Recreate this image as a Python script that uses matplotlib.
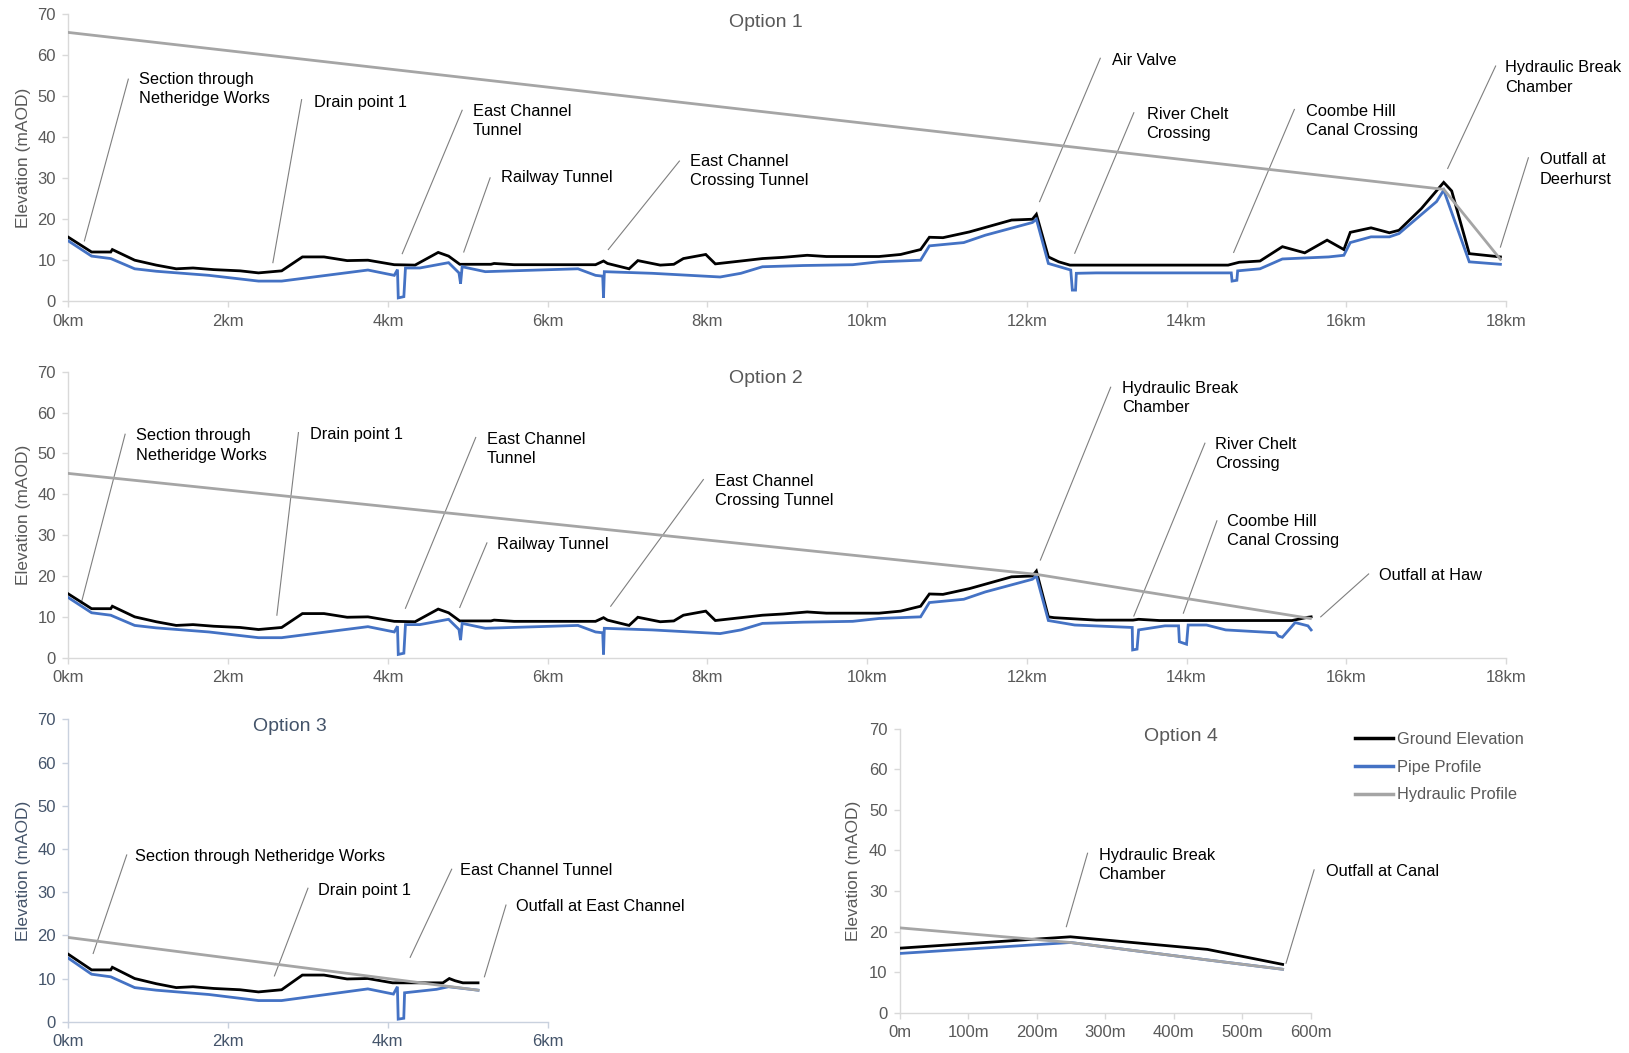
import matplotlib
matplotlib.use("Agg")
from matplotlib import pyplot as plt
from matplotlib.lines import Line2D

plt.rcParams['font.family'] = ['Liberation Sans', 'DejaVu Sans']

# colours (Excel style)
GROUND_C = '#000000'
PIPE_C = '#4472C4'
HYD_C = '#A5A5A5'
GREY_TXT = '#595959'
BLUE_TXT = '#44546A'

# ---- data (km / mAOD) ----
# ground profile shared by options 1-3 from Netheridge to ~12 km
west_km = [0, 0.29, 0.53, 0.55, 0.83, 1.1, 1.35, 1.56, 1.82, 2.15, 2.38, 2.67,
           2.93, 3.2, 3.49, 3.75, 4.08, 4.34, 4.63, 4.76, 4.9, 5.29, 5.33, 5.58,
           6.6, 6.7, 6.75, 7.02, 7.13, 7.41, 7.58, 7.7, 7.98, 8.1, 8.42, 8.69,
           8.95, 9.25, 9.49, 10.15, 10.42, 10.67, 10.78, 10.95, 11.28, 11.81,
           12.07, 12.12]
west_ground = [15.6, 12.0, 12.0, 12.6, 10.0, 8.8, 7.9, 8.1, 7.7, 7.4, 6.9, 7.4,
               10.8, 10.8, 9.9, 10.0, 8.9, 8.8, 11.9, 11.0, 9.0, 9.0, 9.2, 8.9,
               8.9, 9.8, 9.2, 7.9, 9.9, 8.8, 9.0, 10.4, 11.4, 9.1, 9.8, 10.4,
               10.7, 11.2, 10.9, 10.9, 11.4, 12.6, 15.6, 15.5, 16.9, 19.8,
               20.0, 21.2]
west_pipe_km = [0, 0.29, 0.53, 0.83, 1.1, 1.76, 2.38, 2.67, 3.07, 3.75, 4.08,
                4.12, 4.13, 4.2, 4.22, 4.4, 4.76, 4.89, 4.91, 4.93, 5.22, 6.38,
                6.6, 6.69, 6.70, 6.71, 7.31, 8.16, 8.42, 8.69, 9.2, 9.82, 10.15,
                10.67, 10.78, 11.21, 11.48, 12.07, 12.12]
west_pipe = [14.7, 11.0, 10.4, 7.9, 7.3, 6.3, 4.9, 4.9, 5.9, 7.6, 6.3,
             7.7, 0.8, 1.1, 8.1, 8.1, 9.4, 6.9, 4.3, 8.4, 7.2, 7.9,
             6.3, 6.1, 0.8, 7.2, 6.8, 5.9, 6.8, 8.4, 8.7, 8.9, 9.6,
             10.0, 13.5, 14.3, 16.1, 19.2, 20.0]

# Option 1 - to Deerhurst
opt1_km = west_km + [12.27, 12.4, 12.54, 14.52, 14.66, 14.92, 15.2, 15.48, 15.76,
                     15.97, 16.05, 16.31, 16.54, 16.66, 16.94, 17.22, 17.32,
                     17.54, 17.93]
opt1_ground = west_ground + [10.8, 9.6, 8.8, 8.8, 9.5, 9.8, 13.3, 11.8, 14.9,
                             12.6, 16.8, 17.9, 16.7, 17.3, 22.6, 29.0, 26.9,
                             11.6, 10.8]
opt1_pipe_km = west_pipe_km + [12.27, 12.55, 12.57, 12.61, 12.62, 12.87, 14.56,
                               14.57, 14.63, 14.64, 14.92, 15.2, 15.78, 15.97,
                               16.05, 16.31, 16.54, 16.66, 17.13, 17.22, 17.54,
                               17.93]
opt1_pipe = west_pipe + [9.2, 7.6, 2.7, 2.7, 6.8, 6.9, 6.9,
                         4.9, 5.1, 7.4, 7.9, 10.3, 10.8, 11.2,
                         14.3, 15.7, 15.7, 16.5, 24.3, 27.1, 9.6,
                         9.0]
opt1_hyd_km = [0, 17.22, 17.93]
opt1_hyd = [65.6, 27.3, 10.2]

# Option 2 - to Haw
opt2_km = west_km + [12.27, 12.34, 12.87, 13.33, 13.4, 13.66, 15.32, 15.52, 15.56]
opt2_ground = west_ground + [10.0, 9.8, 9.2, 9.2, 9.4, 9.1, 9.1, 9.9, 10.0]
opt2_pipe_km = west_pipe_km + [12.27, 12.6, 13.32, 13.325, 13.38, 13.4, 13.73,
                               13.9, 13.91, 14.0, 14.02, 14.25, 14.49, 15.12,
                               15.15, 15.2, 15.36, 15.52, 15.56]
opt2_pipe = west_pipe + [9.1, 8.0, 7.4, 1.9, 2.1, 6.8, 7.8,
                         7.8, 3.9, 3.3, 8.0, 8.0, 6.8, 6.1,
                         5.3, 5.0, 8.6, 7.8, 6.8]
opt2_hyd_km = [0, 12.12, 15.55]
opt2_hyd = [45.1, 20.4, 9.6]

# Option 3 - to East Channel
opt3_km = west_km[:16] + [4.06, 4.69, 4.77, 4.84, 4.94, 5.13]
opt3_ground = west_ground[:16] + [9.0, 9.0, 10.0, 9.5, 9.0, 9.0]
opt3_pipe_km = west_pipe_km[:10] + [4.07, 4.12, 4.13, 4.2, 4.21, 4.61, 4.76, 5.13]
opt3_pipe = west_pipe[:10] + [6.4, 8.1, 0.6, 0.8, 6.7, 7.5, 8.1, 7.3]
opt3_hyd_km = [0, 5.13]
opt3_hyd = [19.5, 7.3]

# Option 4 - to canal (metres)
opt4_m = [0, 249, 449, 559]
opt4_ground = [15.9, 18.7, 15.6, 11.9]
opt4_pipe = [14.6, 17.3, 13.0, 10.7]
opt4_hyd = [20.9, 17.3, 13.0, 10.7]

km_ticks = [0, 2, 4, 6, 8, 10, 12, 14, 16, 18]
m_ticks = [0, 100, 200, 300, 400, 500, 600]
y_ticks = [0, 10, 20, 30, 40, 50, 60, 70]

# callouts: label, point on profile, end of leader, text anchor (top-left)
opt1_notes = [
    ("Section through\nNetheridge Works", (0.20, 14.7), (0.75, 54.2), (0.88, 56.0)),
    ("Drain point 1", (2.56, 9.4), (2.92, 49.2), (3.07, 50.3)),
    ("East Channel\nTunnel", (4.18, 11.6), (4.93, 46.6), (5.06, 48.1)),
    ("Railway Tunnel", (4.95, 12.0), (5.28, 30.1), (5.42, 32.0)),
    ("East Channel\nCrossing Tunnel", (6.76, 12.6), (7.65, 34.2), (7.78, 35.9)),
    ("Air Valve", (12.16, 24.3), (12.92, 59.3), (13.07, 60.5)),
    ("River Chelt\nCrossing", (12.60, 11.7), (13.34, 46.0), (13.5, 47.5)),
    ("Coombe Hill\nCanal Crossing", (14.59, 11.9), (15.35, 46.8), (15.5, 48.1)),
    ("Hydraulic Break\nChamber", (17.27, 32.4), (17.87, 57.4), (17.99, 58.8)),
    ("Outfall at\nDeerhurst", (17.93, 13.2), (18.28, 35.0), (18.42, 36.3)),
]
opt2_notes = [
    ("Section through\nNetheridge Works", (0.16, 13.3), (0.71, 54.7), (0.84, 56.1)),
    ("Drain point 1", (2.61, 10.4), (2.88, 55.1), (3.02, 56.5)),
    ("East Channel\nTunnel", (4.22, 12.1), (5.10, 53.9), (5.24, 55.3)),
    ("Railway Tunnel", (4.90, 12.3), (5.24, 28.1), (5.37, 29.6)),
    ("East Channel\nCrossing Tunnel", (6.79, 12.6), (7.95, 43.6), (8.10, 45.0)),
    ("Hydraulic Break\nChamber", (12.17, 23.9), (13.05, 66.2), (13.19, 67.7)),
    ("River Chelt\nCrossing", (13.34, 10.2), (14.23, 52.5), (14.36, 54.1)),
    ("Coombe Hill\nCanal Crossing", (13.96, 10.9), (14.38, 33.5), (14.51, 35.2)),
    ("Outfall at Haw", (15.68, 10.0), (16.28, 20.5), (16.41, 21.9)),
]
opt3_notes = [
    ("Section through Netheridge Works", (0.31, 15.8), (0.73, 38.6), (0.84, 39.9)),
    ("Drain point 1", (2.58, 10.6), (3.0, 30.9), (3.12, 32.2)),
    ("East Channel Tunnel", (4.28, 14.9), (4.80, 35.3), (4.91, 36.7)),
    ("Outfall at East Channel", (5.21, 10.4), (5.48, 27.0), (5.61, 28.4)),
]
opt4_notes = [
    ("Hydraulic Break\nChamber", (243, 21.2), (274, 39.3), (290, 40.7)),
    ("Outfall at Canal", (564, 12.2), (605, 35.2), (623, 36.6)),
]


def style_axes(ax, xmax, ticks, labels, txt_color, spine_color, title, title_xy):
    ax.set_xlim(0, xmax)
    ax.set_ylim(0, 70)
    ax.set_xticks(ticks)
    ax.set_xticklabels(labels)
    ax.set_yticks(y_ticks)
    for s in ['top', 'right']:
        ax.spines[s].set_visible(False)
    for s in ['left', 'bottom']:
        ax.spines[s].set_color(spine_color)
        ax.spines[s].set_linewidth(1.0)
    ax.tick_params(axis='both', colors=spine_color, labelcolor=txt_color,
                   labelsize=12, length=4, width=1.0, direction='out')
    ax.tick_params(axis='x', pad=5)
    ax.tick_params(axis='y', pad=5)
    ax.set_ylabel("Elevation (mAOD)", color=txt_color, fontsize=12.5)
    ax.text(title_xy[0], title_xy[1], title, transform=ax.transAxes,
            ha='center', va='center', fontsize=14, color=txt_color)


def draw_profiles(ax, gx, gy, px, py, hx, hy):
    ax.plot(gx, gy, color=GROUND_C, lw=2.0, solid_joinstyle='miter', zorder=3)
    ax.plot(px, py, color=PIPE_C, lw=2.0, solid_joinstyle='miter', zorder=3)
    ax.plot(hx, hy, color=HYD_C, lw=2.0, zorder=4)


def draw_notes(ax, notes):
    for label, p0, p1, t in notes:
        ax.plot([p0[0], p1[0]], [p0[1], p1[1]], color='#7F7F7F', lw=0.8,
                clip_on=False, zorder=2)
        ax.text(t[0], t[1], label, ha='left', va='top', fontsize=11.8,
                color='#000000', linespacing=1.35, clip_on=False)


fig = plt.figure(figsize=(16.29, 10.53), dpi=100)

ax1 = fig.add_axes([0.042, 0.714, 0.8825, 0.2723])
ax2 = fig.add_axes([0.042, 0.3754, 0.8825, 0.2716])
ax3 = fig.add_axes([0.042, 0.0297, 0.2941, 0.2872])
ax4 = fig.add_axes([0.5525, 0.0383, 0.2521, 0.2697])

km_labels = [f"{v}km" for v in km_ticks]
m_labels = [f"{v}m" for v in m_ticks]

# Option 1
draw_profiles(ax1, opt1_km, opt1_ground, opt1_pipe_km, opt1_pipe, opt1_hyd_km, opt1_hyd)
style_axes(ax1, 18, km_ticks, km_labels, GREY_TXT, '#D9D9D9', "Option 1", (0.485, 0.972))
ax1.yaxis.set_label_coords(-0.026, 0.5)
draw_notes(ax1, opt1_notes)

# Option 2
draw_profiles(ax2, opt2_km, opt2_ground, opt2_pipe_km, opt2_pipe, opt2_hyd_km, opt2_hyd)
style_axes(ax2, 18, km_ticks, km_labels, GREY_TXT, '#D9D9D9', "Option 2", (0.485, 0.977))
ax2.yaxis.set_label_coords(-0.026, 0.5)
draw_notes(ax2, opt2_notes)

# Option 3
draw_profiles(ax3, opt3_km, opt3_ground, opt3_pipe_km, opt3_pipe, opt3_hyd_km, opt3_hyd)
style_axes(ax3, 6, km_ticks[:4], km_labels[:4], BLUE_TXT, '#C9D1DE', "Option 3", (0.462, 0.976))
ax3.yaxis.set_label_coords(-0.078, 0.5)
draw_notes(ax3, opt3_notes)

# Option 4
draw_profiles(ax4, opt4_m, opt4_ground, opt4_m, opt4_pipe, opt4_m, opt4_hyd)
style_axes(ax4, 600, m_ticks, m_labels, GREY_TXT, '#D9D9D9', "Option 4", (0.684, 0.972))
ax4.yaxis.set_label_coords(-0.095, 0.5)
draw_notes(ax4, opt4_notes)

handles = [Line2D([], [], color=GROUND_C, lw=2.5),
           Line2D([], [], color=PIPE_C, lw=2.5),
           Line2D([], [], color=HYD_C, lw=2.5)]
fig.legend(handles, ["Ground Elevation", "Pipe Profile", "Hydraulic Profile"],
           loc='upper left', bbox_to_anchor=(0.8318, 0.305), frameon=False,
           borderpad=0, borderaxespad=0, handlelength=2.3, handletextpad=0.25,
           labelspacing=0.78, fontsize=11.8, labelcolor=GREY_TXT)

fig.savefig("out.png", dpi=100)
